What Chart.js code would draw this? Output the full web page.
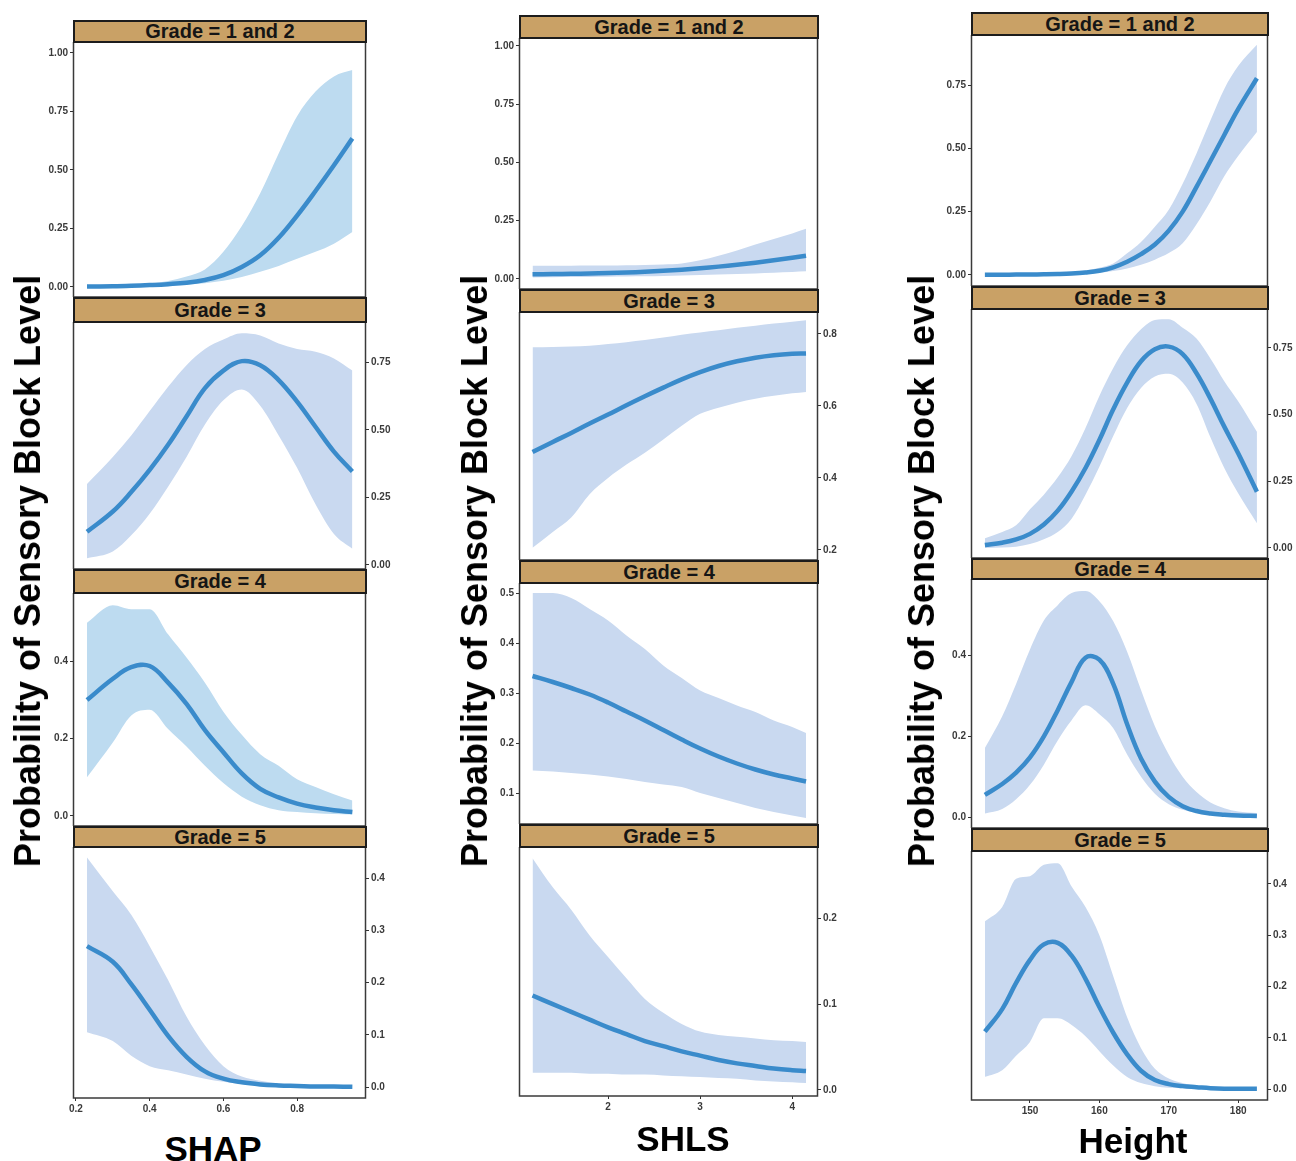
<!DOCTYPE html>
<html>
<head>
<meta charset="utf-8">
<script src="https://cdn.jsdelivr.net/npm/chart.js@4.4.1/dist/chart.umd.min.js"></script>
<style>
body{margin:0;background:#fff;width:1296px;height:1161px;position:relative;overflow:hidden;font-family:"Liberation Sans",Arial,sans-serif;}
canvas{position:absolute;}
.strip{position:absolute;box-sizing:border-box;border:2px solid #1c1c1c;background:#c9a166;color:#151515;font-weight:bold;font-size:20px;text-align:center;}
.ytitle{position:absolute;font-weight:bold;font-size:36px;white-space:nowrap;line-height:1;transform:translate(-50%,-50%) rotate(-90deg);color:#000;}
.xtitle{position:absolute;font-weight:bold;font-size:35px;white-space:nowrap;line-height:1;transform:translate(-50%,-50%);color:#000;}
</style>
</head>
<body>
<script>
// facet labels
const grades=["Grade = 1 and 2","Grade = 3","Grade = 4","Grade = 5"];
const yTitle="Probability of Sensory Block Level";

// ---- SHAP ----
const shapX=[0.23,0.3,0.35,0.4,0.45,0.5,0.55,0.6,0.65,0.7,0.75,0.8,0.85,0.9,0.95];
const shapTicks=[0.2,0.4,0.6,0.8];
const shapG12Mean=[0.002,0.003,0.005,0.008,0.012,0.018,0.03,0.05,0.085,0.135,0.21,0.305,0.41,0.52,0.635];
const shapG12Low=[0,0.001,0.002,0.004,0.006,0.01,0.016,0.026,0.042,0.065,0.09,0.12,0.15,0.185,0.235];
const shapG12High=[0.004,0.006,0.009,0.014,0.025,0.045,0.075,0.15,0.26,0.4,0.57,0.73,0.835,0.9,0.927];
const shapG3Mean=[0.123,0.198,0.27,0.352,0.445,0.55,0.655,0.72,0.755,0.74,0.685,0.605,0.512,0.42,0.346];
const shapG3Low=[0.025,0.05,0.11,0.19,0.29,0.4,0.52,0.61,0.65,0.59,0.48,0.36,0.225,0.115,0.06];
const shapG3High=[0.3,0.4,0.48,0.57,0.66,0.74,0.8,0.835,0.858,0.85,0.82,0.8,0.79,0.765,0.72];
const shapG4Mean=[0.3,0.355,0.385,0.388,0.345,0.29,0.222,0.165,0.11,0.07,0.048,0.032,0.022,0.015,0.01];
const shapG4Low=[0.1,0.19,0.26,0.275,0.225,0.18,0.13,0.085,0.05,0.028,0.015,0.01,0.007,0.005,0.004];
const shapG4High=[0.5,0.545,0.535,0.535,0.47,0.41,0.345,0.27,0.21,0.16,0.13,0.095,0.075,0.056,0.04];
const shapG5Mean=[0.27,0.24,0.197,0.148,0.098,0.058,0.03,0.016,0.009,0.005,0.003,0.002,0.001,0.001,0.0005];
const shapG5Low=[0.105,0.088,0.06,0.04,0.032,0.024,0.016,0.01,0.006,0.003,0.002,0.001,0.001,0,0];
const shapG5High=[0.44,0.375,0.33,0.27,0.205,0.135,0.08,0.04,0.02,0.012,0.007,0.004,0.002,0.001,0.001];

// ---- SHLS ----
const shlsX=[1.18,1.4,1.6,1.8,2.0,2.2,2.4,2.6,2.8,3.0,3.2,3.4,3.6,3.8,4.0,4.15];
const shlsTicks=[2,3,4];
const shlsG12Mean=[0.02,0.021,0.022,0.024,0.026,0.028,0.031,0.035,0.04,0.046,0.053,0.061,0.07,0.08,0.091,0.1];
const shlsG12Low=[0.006,0.007,0.008,0.009,0.01,0.011,0.012,0.013,0.015,0.017,0.019,0.021,0.024,0.027,0.03,0.033];
const shlsG12High=[0.057,0.057,0.057,0.058,0.058,0.059,0.06,0.062,0.066,0.08,0.1,0.122,0.148,0.172,0.195,0.215];
const shlsG3Mean=[0.472,0.5,0.525,0.551,0.576,0.602,0.627,0.651,0.674,0.694,0.711,0.724,0.734,0.741,0.745,0.746];
const shlsG3Low=[0.206,0.25,0.29,0.355,0.4,0.437,0.47,0.507,0.545,0.578,0.595,0.609,0.62,0.628,0.635,0.639];
const shlsG3High=[0.763,0.764,0.765,0.767,0.772,0.777,0.783,0.79,0.798,0.804,0.81,0.817,0.823,0.829,0.834,0.838];
const shlsG4Mean=[0.334,0.322,0.31,0.297,0.281,0.263,0.245,0.226,0.207,0.189,0.173,0.159,0.147,0.137,0.129,0.123];
const shlsG4Low=[0.145,0.143,0.14,0.137,0.133,0.128,0.122,0.117,0.112,0.1,0.09,0.08,0.07,0.062,0.055,0.05];
const shlsG4High=[0.5,0.5,0.49,0.468,0.445,0.415,0.388,0.355,0.33,0.305,0.29,0.275,0.262,0.245,0.232,0.22];
const shlsG5Mean=[0.11,0.1,0.091,0.082,0.073,0.065,0.057,0.051,0.045,0.04,0.035,0.031,0.028,0.025,0.023,0.022];
const shlsG5Low=[0.02,0.02,0.02,0.019,0.019,0.018,0.018,0.017,0.016,0.015,0.014,0.013,0.011,0.01,0.009,0.008];
const shlsG5High=[0.27,0.236,0.21,0.18,0.155,0.13,0.106,0.09,0.077,0.068,0.064,0.062,0.06,0.058,0.057,0.056];

// ---- Height ----
const heightX=[143.5,146,148,150,152,154,156,158,160,162,164,166,168,170,172,174,176,178,180,182.7];
const heightTicks=[150,160,170,180];
const heightG12Mean=[0,0.0005,0.001,0.0015,0.002,0.003,0.005,0.009,0.016,0.03,0.052,0.082,0.12,0.175,0.25,0.348,0.45,0.553,0.655,0.777];
const heightG12Low=[0,0,0,0,0,0.001,0.002,0.004,0.008,0.015,0.025,0.04,0.06,0.086,0.125,0.2,0.29,0.39,0.47,0.565];
const heightG12High=[0.001,0.001,0.002,0.003,0.004,0.006,0.01,0.017,0.028,0.045,0.085,0.13,0.19,0.257,0.36,0.48,0.61,0.735,0.825,0.909];
const heightG3Mean=[0.011,0.02,0.032,0.053,0.088,0.14,0.212,0.3,0.405,0.52,0.62,0.7,0.745,0.755,0.727,0.655,0.56,0.455,0.355,0.211];
const heightG3Low=[0,0.002,0.005,0.015,0.033,0.06,0.11,0.2,0.305,0.42,0.525,0.6,0.643,0.653,0.62,0.54,0.415,0.3,0.205,0.093];
const heightG3High=[0.036,0.06,0.085,0.145,0.2,0.265,0.345,0.45,0.57,0.675,0.76,0.82,0.855,0.858,0.826,0.785,0.71,0.625,0.55,0.436];
const heightG4Mean=[0.055,0.082,0.11,0.148,0.2,0.265,0.335,0.395,0.39,0.33,0.23,0.145,0.088,0.05,0.027,0.015,0.009,0.006,0.004,0.003];
const heightG4Low=[0.009,0.02,0.044,0.08,0.13,0.19,0.24,0.277,0.255,0.22,0.155,0.1,0.058,0.032,0.018,0.01,0.006,0.004,0.003,0.002];
const heightG4High=[0.171,0.25,0.33,0.415,0.487,0.525,0.555,0.56,0.535,0.485,0.41,0.315,0.225,0.155,0.1,0.062,0.036,0.022,0.014,0.01];
const heightG5Mean=[0.112,0.156,0.207,0.252,0.282,0.285,0.26,0.215,0.16,0.11,0.068,0.036,0.018,0.01,0.006,0.004,0.002,0.001,0.001,0.001];
const heightG5Low=[0.024,0.037,0.065,0.092,0.138,0.138,0.125,0.103,0.074,0.046,0.024,0.012,0.006,0.003,0.002,0.001,0.001,0,0,0];
const heightG5High=[0.327,0.355,0.41,0.415,0.437,0.44,0.395,0.355,0.3,0.22,0.14,0.08,0.04,0.021,0.012,0.006,0.003,0.002,0.001,0.001];

// y tick sets
const yTicksQ4=[0,0.25,0.5,0.75,1];
const yTicksQ3=[0,0.25,0.5,0.75];
const yTicks02=[0,0.2,0.4];
const yTicks01=[0,0.1,0.2,0.3,0.4];
const yTicksShls3=[0.2,0.4,0.6,0.8];
const yTicksShls4=[0.1,0.2,0.3,0.4,0.5];
const yTicksShls5=[0,0.1,0.2];

const LINE="#3a8bcb";
const BAND_A="#bddbf0";
const BAND_B="#c9d9f0";

const columns=[
 {title:"SHAP",tx:213,ty:1148,yx:28,left:73,right:366,x:shapX,xTicks:shapTicks,xDec:1,xMin:0.192,xMax:0.987,
  rows:[
   {hTop:20,top:42,bottom:297,yMin:-0.043,yMax:1.047,ticks:yTicksQ4,dec:2,side:"left",band:BAND_A,mean:shapG12Mean,low:shapG12Low,high:shapG12High},
   {hTop:297,top:322,bottom:569,yMin:-0.015,yMax:0.9,ticks:yTicksQ3,dec:2,side:"right",band:BAND_B,mean:shapG3Mean,low:shapG3Low,high:shapG3High},
   {hTop:569,top:593,bottom:826,yMin:-0.026,yMax:0.577,ticks:yTicks02,dec:1,side:"left",band:BAND_A,mean:shapG4Mean,low:shapG4Low,high:shapG4High},
   {hTop:826,top:847,bottom:1098,yMin:-0.021,yMax:0.46,ticks:yTicks01,dec:1,side:"right",band:BAND_B,mean:shapG5Mean,low:shapG5Low,high:shapG5High}
  ]},
 {title:"SHLS",tx:683,ty:1138,yx:475,left:519,right:818,x:shlsX,xTicks:shlsTicks,xDec:0,xMin:1.033,xMax:4.28,
  rows:[
   {hTop:15,top:38,bottom:289,yMin:-0.043,yMax:1.034,ticks:yTicksQ4,dec:2,side:"left",band:BAND_B,mean:shlsG12Mean,low:shlsG12Low,high:shlsG12High},
   {hTop:289,top:312,bottom:560,yMin:0.172,yMax:0.861,ticks:yTicksShls3,dec:1,side:"right",band:BAND_B,mean:shlsG3Mean,low:shlsG3Low,high:shlsG3High},
   {hTop:560,top:583,bottom:824,yMin:0.038,yMax:0.52,ticks:yTicksShls4,dec:1,side:"left",band:BAND_B,mean:shlsG4Mean,low:shlsG4Low,high:shlsG4High},
   {hTop:824,top:847,bottom:1096,yMin:-0.007,yMax:0.283,ticks:yTicksShls5,dec:1,side:"right",band:BAND_B,mean:shlsG5Mean,low:shlsG5Low,high:shlsG5High}
  ]},
 {title:"Height",tx:1133,ty:1140,yx:922,left:971,right:1268,x:heightX,xTicks:heightTicks,xDec:0,xMin:141.5,xMax:184.3,
  rows:[
   {hTop:12,top:35,bottom:286,yMin:-0.044,yMax:0.948,ticks:yTicksQ3,dec:2,side:"left",band:BAND_B,mean:heightG12Mean,low:heightG12Low,high:heightG12High},
   {hTop:286,top:309,bottom:558,yMin:-0.0375,yMax:0.896,ticks:yTicksQ3,dec:2,side:"right",band:BAND_B,mean:heightG3Mean,low:heightG3Low,high:heightG3High},
   {hTop:558,top:579,bottom:828,yMin:-0.027,yMax:0.59,ticks:yTicks02,dec:1,side:"left",band:BAND_B,mean:heightG4Mean,low:heightG4Low,high:heightG4High},
   {hTop:828,top:851,bottom:1100,yMin:-0.021,yMax:0.464,ticks:yTicks01,dec:1,side:"right",band:BAND_B,mean:heightG5Mean,low:heightG5Low,high:heightG5High}
  ]}
];

const boxPlugin={id:"box",afterDraw(chart){
  const a=chart.chartArea,c=chart.ctx;
  c.save();c.strokeStyle="#3a3a3a";c.lineWidth=1.5;
  c.strokeRect(a.left+0.5,a.top,a.right-a.left-1,a.bottom-a.top);
  c.restore();
}};

const tickFont={family:"Liberation Sans",size:10,weight:"bold"};
const PAD=46, XH=26;

function pts(xs,ys){return xs.map((x,i)=>({x:x,y:ys[i]}));}

// stop chart.js from shrinking the plot to make room for edge tick labels
function noPad(s){s.paddingTop=0;s.paddingBottom=0;s.paddingLeft=0;s.paddingRight=0;}

function makePanel(col,row,last){
  const w=col.right-col.left+2*PAD;
  const h=row.bottom-row.top+(last?XH:0);
  const cv=document.createElement("canvas");
  cv.width=w;cv.height=h;
  cv.style.left=(col.left-PAD)+"px";
  cv.style.top=row.top+"px";
  document.body.appendChild(cv);

  new Chart(cv,{
    type:"line",
    data:{datasets:[
      {data:pts(col.x,row.mean),borderColor:LINE,borderWidth:4.5,pointRadius:0,fill:false,borderCapStyle:"butt",tension:0.4},
      {data:pts(col.x,row.low),borderWidth:0,borderColor:"rgba(0,0,0,0)",pointRadius:0,fill:false,cubicInterpolationMode:"monotone"},
      {data:pts(col.x,row.high),borderWidth:0,borderColor:"rgba(0,0,0,0)",pointRadius:0,fill:"-1",backgroundColor:row.band,cubicInterpolationMode:"monotone"}
    ]},
    options:{
      responsive:false,animation:false,events:[],
      layout:{padding:{left:row.side==="left"?0:PAD,right:row.side==="right"?0:PAD,top:0,bottom:0}},
      plugins:{legend:{display:false},tooltip:{enabled:false}},
      scales:{
        x:{type:"linear",display:last,min:col.xMin,max:col.xMax,
          afterBuildTicks:s=>{s.ticks=col.xTicks.map(v=>({value:v}));},
          afterFit:s=>{s.height=last?XH:0;noPad(s);},
          grid:{drawOnChartArea:false,tickLength:3,color:"#333",lineWidth:1},
          border:{display:false},
          ticks:{font:tickFont,color:"#3a3a3a",padding:2,maxRotation:0,callback:v=>Number(v).toFixed(col.xDec)}},
        y:{type:"linear",position:row.side,min:row.yMin,max:row.yMax,
          afterBuildTicks:s=>{s.ticks=row.ticks.map(v=>({value:v}));},
          afterFit:s=>{s.width=PAD;noPad(s);},
          grid:{drawOnChartArea:false,tickLength:3,color:"#333",lineWidth:1},
          border:{display:false},
          ticks:{font:tickFont,color:"#3a3a3a",padding:2,callback:v=>Number(v).toFixed(row.dec)}}
      }
    },
    plugins:[boxPlugin]
  });
}

function addStrip(col,row,label){
  const d=document.createElement("div");
  d.className="strip";
  d.style.left=col.left+"px";
  d.style.top=row.hTop+"px";
  d.style.width=(col.right-col.left+1)+"px";
  const hh=row.top-row.hTop+1;
  d.style.height=hh+"px";
  d.style.lineHeight=(hh-4)+"px";
  d.textContent=label;
  document.body.appendChild(d);
}

columns.forEach(col=>{
  col.rows.forEach((row,i)=>makePanel(col,row,i===col.rows.length-1));
  col.rows.forEach((row,i)=>addStrip(col,row,grades[i]));
  const yt=document.createElement("div");
  yt.className="ytitle";yt.textContent=yTitle;
  yt.style.left=col.yx+"px";yt.style.top="571px";
  document.body.appendChild(yt);
  const xt=document.createElement("div");
  xt.className="xtitle";xt.textContent=col.title;
  xt.style.left=col.tx+"px";xt.style.top=col.ty+"px";
  document.body.appendChild(xt);
});
</script>
</body>
</html>
